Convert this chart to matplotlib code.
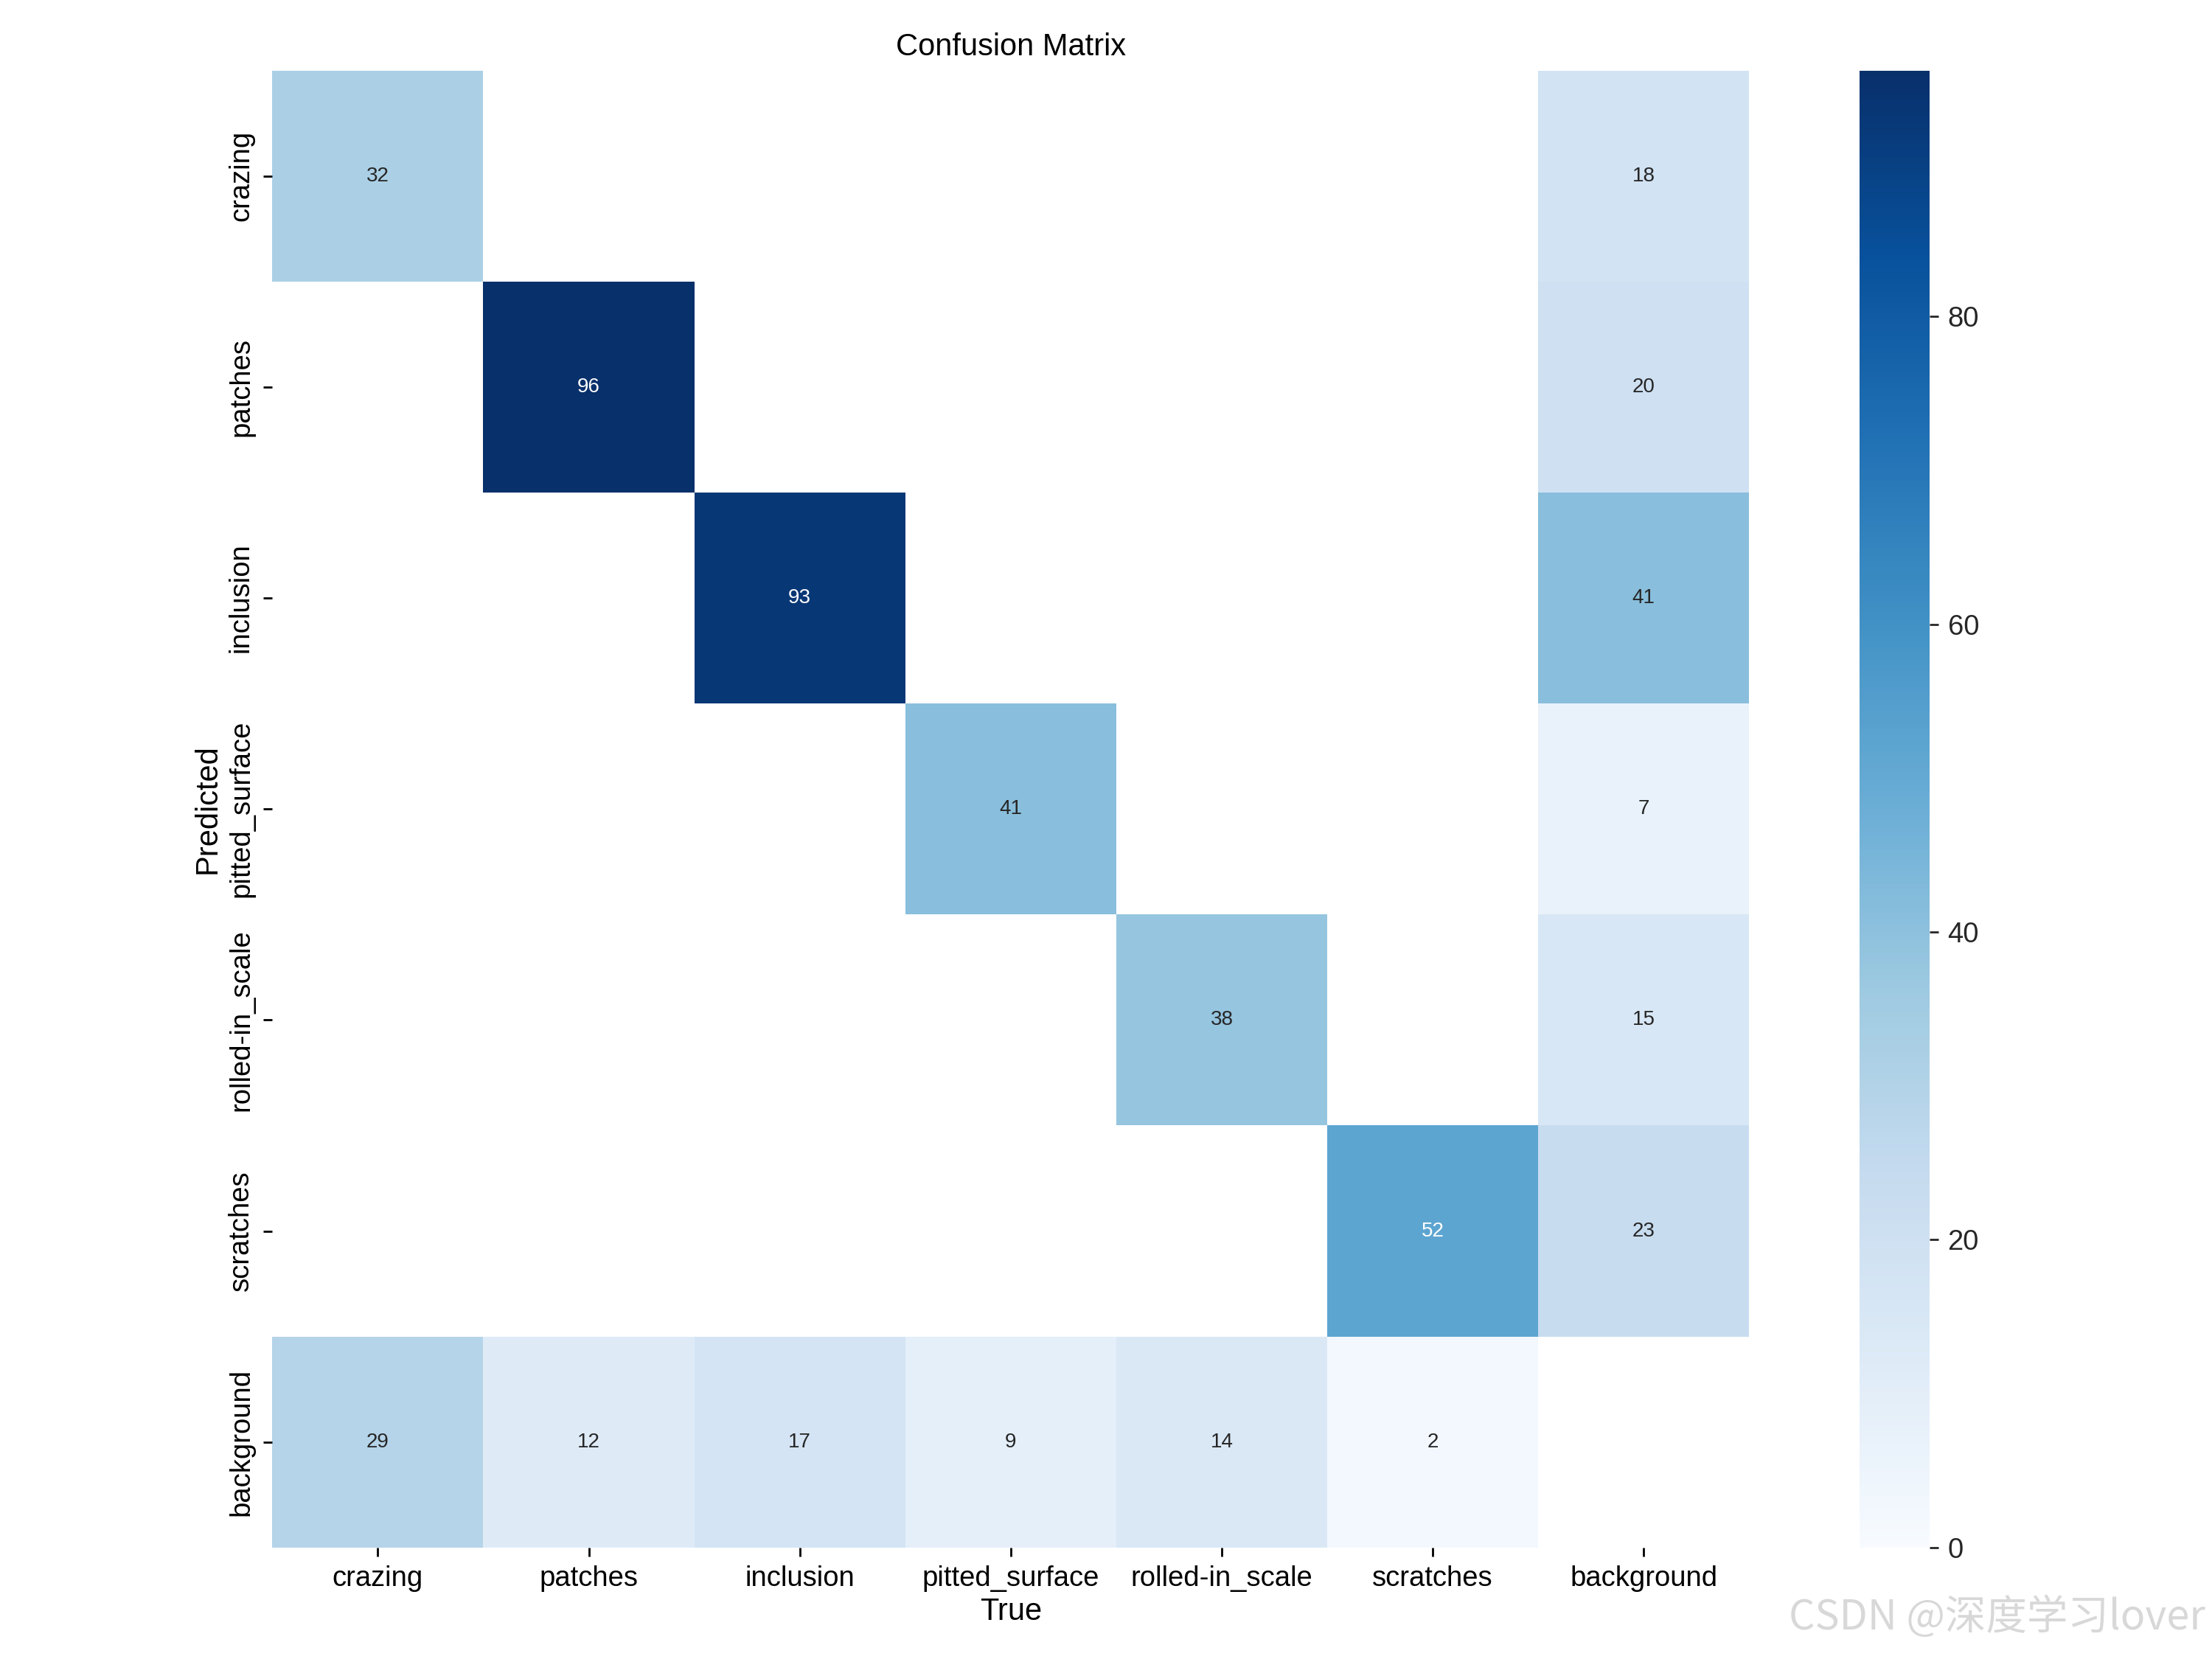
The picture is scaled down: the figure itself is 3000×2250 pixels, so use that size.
import numpy as np
import matplotlib
matplotlib.use('Agg')
import matplotlib.pyplot as plt
import seaborn as sns

plt.rcParams['font.family'] = ['Liberation Sans', 'DejaVu Sans']

# class names (rows = predicted, columns = true)
names = ['crazing', 'patches', 'inclusion', 'pitted_surface', 'rolled-in_scale', 'scratches', 'background']

# counts, nan = empty cell
row_crazing = [32, np.nan, np.nan, np.nan, np.nan, np.nan, 18]
row_patches = [np.nan, 96, np.nan, np.nan, np.nan, np.nan, 20]
row_inclusion = [np.nan, np.nan, 93, np.nan, np.nan, np.nan, 41]
row_pitted = [np.nan, np.nan, np.nan, 41, np.nan, np.nan, 7]
row_rolled = [np.nan, np.nan, np.nan, np.nan, 38, np.nan, 15]
row_scratches = [np.nan, np.nan, np.nan, np.nan, np.nan, 52, 23]
row_background = [29, 12, 17, 9, 14, 2, np.nan]

matrix = np.array([row_crazing, row_patches, row_inclusion, row_pitted,
                   row_rolled, row_scratches, row_background])

fig, ax = plt.subplots(1, 1, figsize=(12, 9), dpi=250)
sns.heatmap(matrix, ax=ax, annot=True, annot_kws={'size': 8}, cmap='Blues', fmt='.0f',
            square=True, vmin=0.0, xticklabels=names, yticklabels=names).set_facecolor((1, 1, 1))

ax.tick_params(axis='both', labelsize=11, length=3.5, width=0.8, colors='black')
plt.setp(ax.get_yticklabels(), rotation=90, va='center')
plt.setp(ax.get_xticklabels(), rotation=0)
ax.set_xlabel('True', fontsize=12, labelpad=2)
ax.set_ylabel('Predicted', fontsize=12, labelpad=2)
ax.set_title('Confusion Matrix', fontsize=12)

cbar = ax.collections[0].colorbar
cbar.ax.tick_params(labelsize=11, length=3.5, width=0.8, colors='#262626')
cbar.outline.set_visible(False)

# place axes like the original layout
ax.set_position([0.1231, 0.0672, 0.6677, 0.8903])
cbar.ax.set_box_aspect(None)
cbar.ax.set_aspect('auto')
cbar.ax.set_position([0.8406, 0.0672, 0.0318, 0.8903])

# watermark
fig.text(0.997, 0.012, 'CSDN @深度学习lover', ha='right', va='bottom', fontsize=16,
         color='#d8d8d8', family=['Noto Sans CJK SC', 'DejaVu Sans'])

fig.savefig('out.png', dpi=250)
